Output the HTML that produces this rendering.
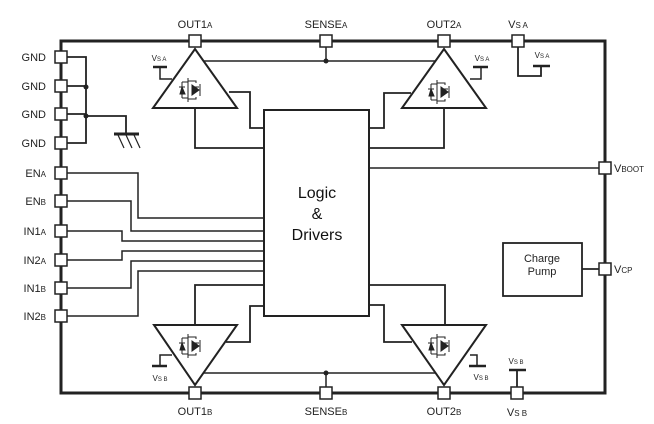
<!DOCTYPE html>
<html><head><style>
body{margin:0;background:#fff}
svg{display:block;font-family:"Liberation Sans",Arial,sans-serif}
</style></head><body>
<svg width="654" height="424" viewBox="0 0 654 424" xmlns="http://www.w3.org/2000/svg">
<g fill="none" stroke="#222">
<rect x="61" y="41" width="544" height="352" stroke-width="3"/>
<!-- GND bus -->
<path d="M61 57H86V143H61M61 86H86M61 114H86M86 116H126V134" stroke-width="1.8"/>
<path d="M114 134H139" stroke-width="3"/>
<path d="M118 135l6 13M126 135l6 13M134 135l6 13" stroke-width="1.2"/>
<!-- inputs -->
<path d="M61 173H138V218H264M61 201H131V231H264M61 231H122V241H264M61 260H122V251H264M61 288H131V261H264M61 316H138V271H264" stroke-width="1.5"/>
<!-- logic box -->
<rect x="264" y="110" width="105" height="206" stroke-width="2"/>
<!-- triangles -->
<path d="M195 49L237 108H153Z M444 49L486 108H402Z M195 385L237 325H154Z M444 385L486 325H402Z" stroke-width="2"/>
<!-- sense lines -->
<path d="M326 41V61M203 61H436M326 393V373M203 373H436" stroke-width="1.5"/>
<!-- A1 -->
<path d="M229 92H250V128H264M195 108V148H264" stroke-width="1.8"/>
<path d="M369 128H384V93H411M444 108V148H369" stroke-width="1.8"/>
<path d="M369 168H605" stroke-width="1.5"/>
<path d="M369 285H445V325M369 305H384V342H412" stroke-width="1.8"/>
<path d="M264 285H195V325M264 306H250V342H226" stroke-width="1.8"/>
<!-- VS connections -->
<path d="M518 41V76H541V66" stroke-width="1.8"/>
<path d="M533 66H550" stroke-width="2.5"/>
<path d="M160 67V79H172" stroke-width="1.5"/>
<path d="M153 67H167" stroke-width="2.5"/>
<path d="M470 79H481V67" stroke-width="1.5"/>
<path d="M473 67H488" stroke-width="2.5"/>
<path d="M517 393V370" stroke-width="1.8"/>
<path d="M509 370H526" stroke-width="2.5"/>
<path d="M172 355H160V366" stroke-width="1.5"/>
<path d="M152 366H167" stroke-width="2.5"/>
<path d="M470 355H477V366" stroke-width="1.5"/>
<path d="M469 366H486" stroke-width="2.5"/>
<!-- charge pump -->
<rect x="503" y="243" width="79" height="53" stroke-width="1.8"/>
<path d="M582 269H605" stroke-width="1.8"/>
</g>
<!-- mosfets -->
<g id="m" fill="none" stroke="#222" stroke-width="1">
<path d="M188 78V102M188 81H196V83M188 99H196V97M182 82V98M182 82H188M182 98H188M200 84V96M193 87H199"/>
<path d="M179 87H185M180 94L182 87L185 94Z" fill="#222"/>
<path d="M192 85L199 90L192 95Z" fill="#222"/>
</g>
<use href="#m" x="249" y="2"/>
<use href="#m" x="0" y="256"/>
<use href="#m" x="249" y="256"/>
<g fill="#222" stroke="none">
<circle cx="86" cy="87" r="2.5"/><circle cx="86" cy="116" r="2.5"/>
<circle cx="326" cy="61" r="2.5"/><circle cx="326" cy="373" r="2.5"/>
</g>
<!-- pins -->
<g fill="#fff" stroke="#222" stroke-width="1.5">
<rect x="55" y="51" width="12" height="12"/><rect x="55" y="80" width="12" height="12"/>
<rect x="55" y="108" width="12" height="12"/><rect x="55" y="137" width="12" height="12"/>
<rect x="55" y="167" width="12" height="12"/><rect x="55" y="195" width="12" height="12"/>
<rect x="55" y="225" width="12" height="12"/><rect x="55" y="254" width="12" height="12"/>
<rect x="55" y="282" width="12" height="12"/><rect x="55" y="310" width="12" height="12"/>
<rect x="189" y="35" width="12" height="12"/><rect x="320" y="35" width="12" height="12"/>
<rect x="438" y="35" width="12" height="12"/><rect x="512" y="35" width="12" height="12"/>
<rect x="189" y="387" width="12" height="12"/><rect x="320" y="387" width="12" height="12"/>
<rect x="438" y="387" width="12" height="12"/><rect x="511" y="387" width="12" height="12"/>
<rect x="599" y="162" width="12" height="12"/><rect x="599" y="263" width="12" height="12"/>
</g>
<g fill="#222" font-size="11">
<text x="46" y="61" text-anchor="end">GND</text>
<text x="46" y="90" text-anchor="end">GND</text>
<text x="46" y="118" text-anchor="end">GND</text>
<text x="46" y="147" text-anchor="end">GND</text>
<text x="46" y="177" text-anchor="end">EN<tspan font-size="8">A</tspan></text>
<text x="46" y="205" text-anchor="end">EN<tspan font-size="8">B</tspan></text>
<text x="46" y="235" text-anchor="end">IN1<tspan font-size="8">A</tspan></text>
<text x="46" y="264" text-anchor="end">IN2<tspan font-size="8">A</tspan></text>
<text x="46" y="292" text-anchor="end">IN1<tspan font-size="8">B</tspan></text>
<text x="46" y="320" text-anchor="end">IN2<tspan font-size="8">B</tspan></text>
<text x="195" y="28" text-anchor="middle">OUT1<tspan font-size="8">A</tspan></text>
<text x="326" y="28" text-anchor="middle">SENSE<tspan font-size="8">A</tspan></text>
<text x="444" y="28" text-anchor="middle">OUT2<tspan font-size="8">A</tspan></text>
<text x="518" y="28" text-anchor="middle">V<tspan font-size="8">S A</tspan></text>
<text x="195" y="415" text-anchor="middle">OUT1<tspan font-size="8">B</tspan></text>
<text x="326" y="415" text-anchor="middle">SENSE<tspan font-size="8">B</tspan></text>
<text x="444" y="415" text-anchor="middle">OUT2<tspan font-size="8">B</tspan></text>
<text x="517" y="416" text-anchor="middle">V<tspan font-size="8">S B</tspan></text>
<text x="614" y="172">V<tspan font-size="8">BOOT</tspan></text>
<text x="614" y="273">V<tspan font-size="8">CP</tspan></text>
<text x="542" y="262" text-anchor="middle">Charge</text>
<text x="542" y="275" text-anchor="middle">Pump</text>
</g>
<g fill="#222" font-size="8">
<text x="159" y="61" text-anchor="middle">V<tspan font-size="6">S A</tspan></text>
<text x="482" y="61" text-anchor="middle">V<tspan font-size="6">S A</tspan></text>
<text x="542" y="58" text-anchor="middle">V<tspan font-size="6">S A</tspan></text>
<text x="160" y="381" text-anchor="middle">V<tspan font-size="6">S B</tspan></text>
<text x="481" y="380" text-anchor="middle">V<tspan font-size="6">S B</tspan></text>
<text x="516" y="364" text-anchor="middle">V<tspan font-size="6">S B</tspan></text>
</g>
<g fill="#111" font-size="16" text-anchor="middle">
<text x="317" y="198">Logic</text>
<text x="317" y="219">&amp;</text>
<text x="317" y="240">Drivers</text>
</g>
</svg>
</body></html>
